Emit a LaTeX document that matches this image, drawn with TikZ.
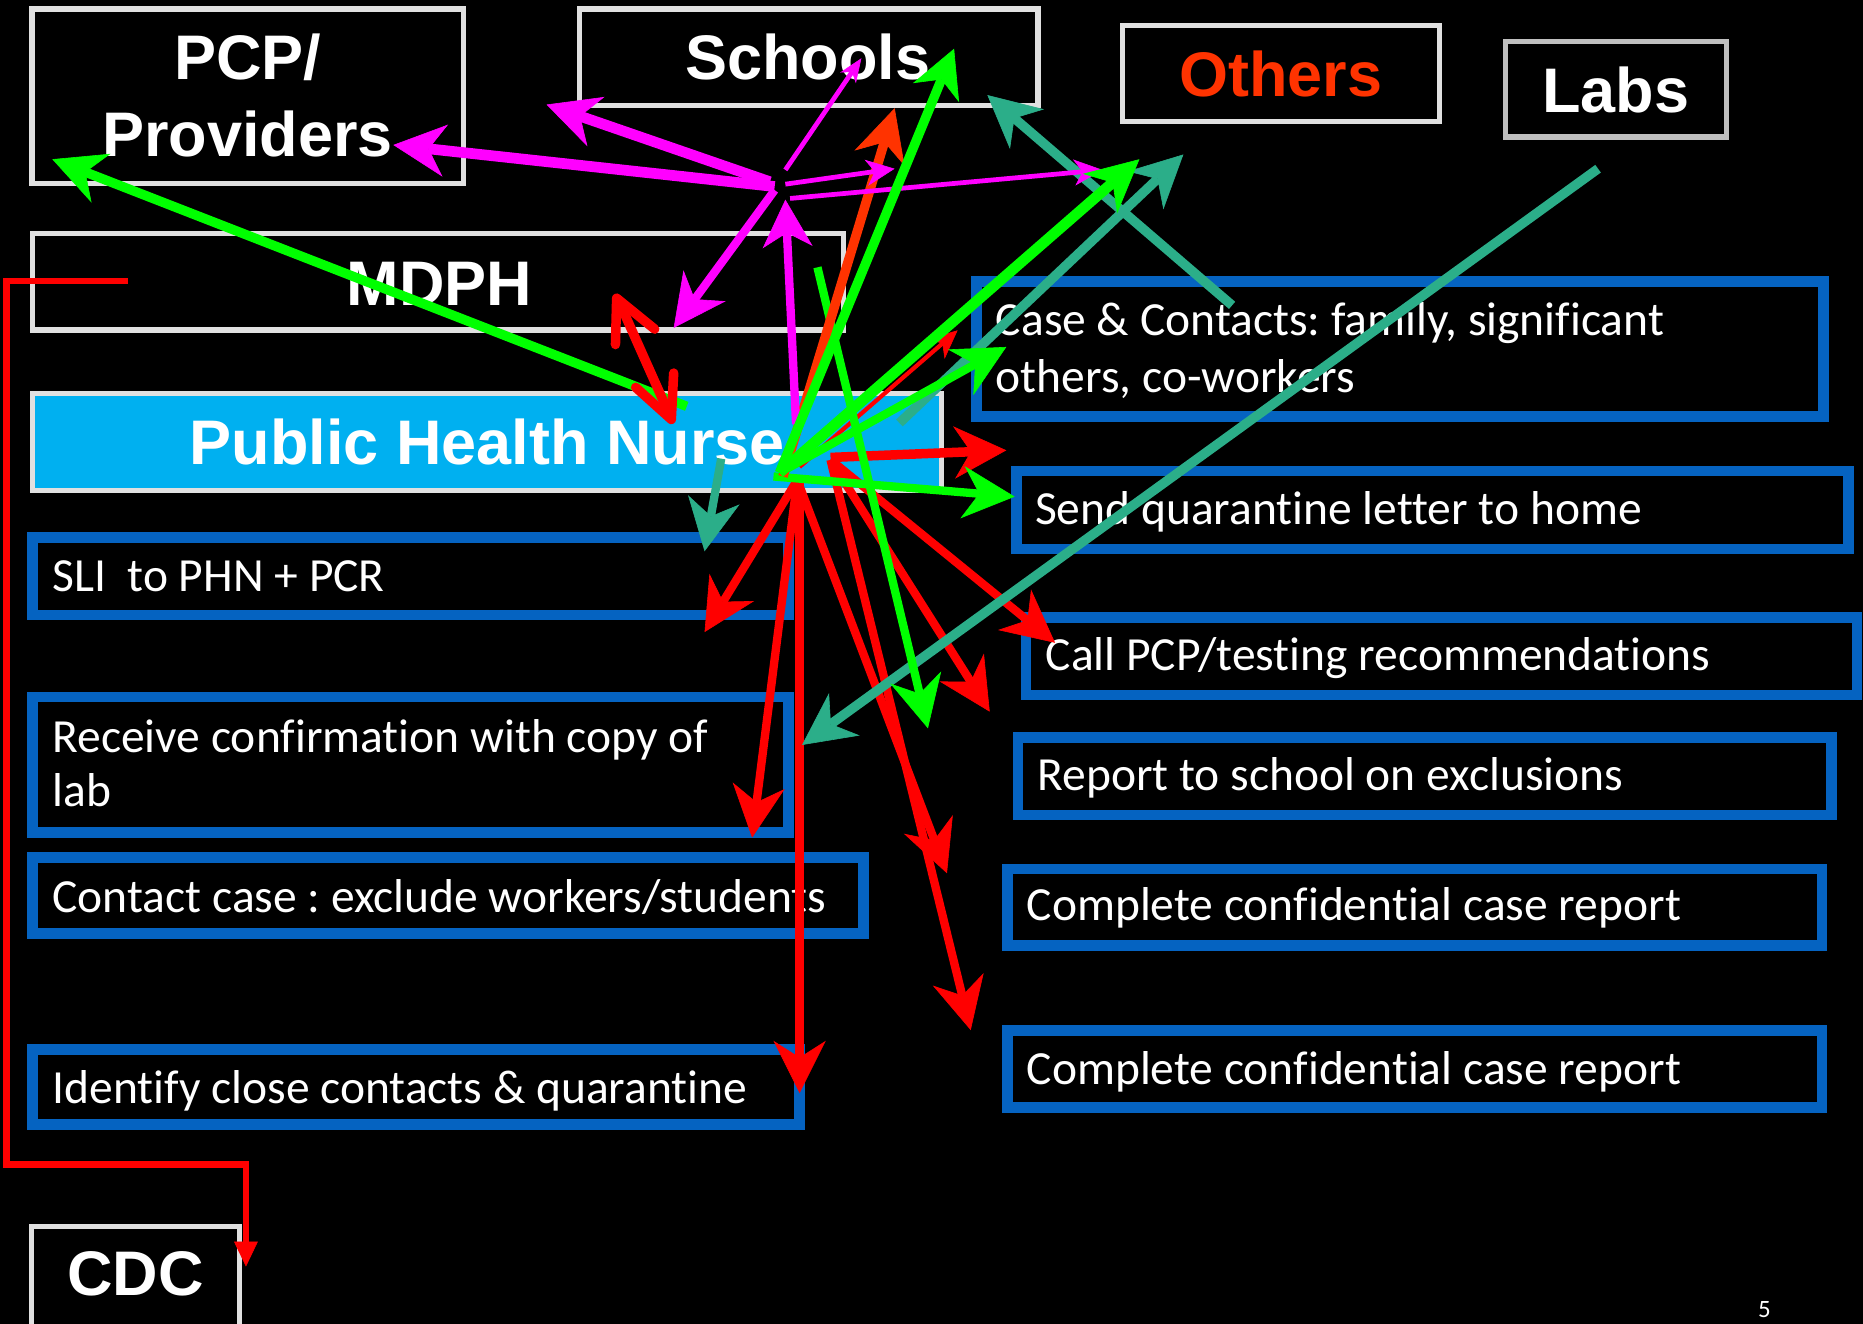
\documentclass[tikz,border=0pt]{standalone}
\usepackage{fontspec}
\setmainfont{Carlito}[Ligatures=NoCommon]
\newfontfamily\hdrfont{Liberation Sans}
\usetikzlibrary{arrows.meta}
\definecolor{wbord}{RGB}{224,224,224}
\definecolor{lbord}{RGB}{191,191,191}
\definecolor{bbord}{RGB}{5,99,193}
\definecolor{phncyan}{RGB}{0,176,240}
\definecolor{othred}{RGB}{255,51,0}
\definecolor{tealc}{RGB}{43,174,137}
\definecolor{magc}{RGB}{255,0,255}
\definecolor{grnc}{RGB}{0,255,0}
\definecolor{redc}{RGB}{255,0,0}
\frenchspacing
\tikzset{
  wbox/.style={draw=wbord,line width=4.5pt,fill=black,inner sep=0pt,outer sep=0pt},
  bbox/.style={draw=bbord,line width=9pt,fill=black,inner sep=0pt,outer sep=0pt},
  hdr/.style={text=white,font=\hdrfont\bfseries\fontsize{53}{60}\selectfont,anchor=base,inner sep=0pt},
  btxt/.style={text=white,font=\fontsize{40}{48}\selectfont,anchor=base west,inner sep=0pt},
  tipL/.style={-{Stealth[length=44pt,width=44pt,inset=14pt,line width=0.5pt]}},
  tipM/.style={-{Stealth[length=40pt,width=42pt,inset=12pt,line width=0.5pt]}},
  tipS/.style={-{Stealth[length=24pt,width=22pt,inset=7pt,line width=0.5pt]}},
  tipXS/.style={-{Stealth[length=20pt,width=16pt,inset=6pt,line width=0.5pt]}},
  barbv/.style={draw=redc,line width=8pt,line cap=round,line join=round},
  lnmag/.style={draw=magc},
  lngrn/.style={draw=grnc},
  lnred/.style={draw=redc},
  lnteal/.style={draw=tealc},
  lnorg/.style={draw=othred}
}
\begin{document}
\begin{tikzpicture}[x=1pt,y=-1pt]
\useasboundingbox (0,0) rectangle (1568,1114);
\clip (0,0) rectangle (1568,1114);
\fill[black] (0,0) rectangle (1568,1114);

% white boxes
\node[wbox, minimum width=363pt, minimum height=146.8pt] (pcp) at (208.5,81.1) {};
\node[wbox, minimum width=385.5pt, minimum height=81.3pt] (schools) at (680.75,48.35) {};
\node[wbox, minimum width=266.8pt, minimum height=80.3pt] (others) at (1077.9,61.85) {};
\node[wbox, draw=lbord, minimum width=186.3pt, minimum height=80.1pt] (labs) at (1360.15,75.25) {};
\node[wbox, minimum width=682.8pt, minimum height=81.1pt] (mdph) at (368.6,237.05) {};
\node[wbox, fill=phncyan, minimum width=765.3pt, minimum height=81.6pt] (phn) at (409.85,371.8) {};
\node[wbox, minimum width=175pt, minimum height=93pt] (cdc) at (114,1078.5) {};

% blue boxes
\node[bbox, minimum width=636pt, minimum height=65pt] (sli) at (345.5,485) {};
\node[bbox, minimum width=636pt, minimum height=114pt] (recv) at (345.5,643.5) {};
\node[bbox, minimum width=699pt, minimum height=64pt] (contact) at (377,753.5) {};
\node[bbox, minimum width=645.5pt, minimum height=63pt] (ident) at (350.25,915) {};
\node[bbox, minimum width=713pt, minimum height=113.4pt] (case) at (1178.5,293.7) {};
\node[bbox, minimum width=699.7pt, minimum height=65.5pt] (send) at (1205.65,429.25) {};
\node[bbox, minimum width=699.6pt, minimum height=65.5pt] (call) at (1213.2,552.25) {};
\node[bbox, minimum width=684.8pt, minimum height=65.3pt] (report) at (1199.1,653.35) {};
\node[bbox, minimum width=685.5pt, minimum height=64pt] (compa) at (1190.75,763.5) {};
\node[bbox, minimum width=685.5pt, minimum height=65.1pt] (compb) at (1190.75,899.75) {};

% header texts
\node[hdr] (pcpta) at (208.5,67) {PCP/};
\node[hdr] (pcptb) at (208.5,132) {Providers};
\node[hdr] (schoolst) at (680,67) {Schools};
\node[hdr, text=othred] (otherst) at (1078,81) {Others};
\node[hdr] (labst) at (1360,94.7) {Labs};
\node[hdr] (mdpht) at (370,256.7) {MDPH};
\node[hdr] (phnt) at (410,391) {Public Health Nurse};
\node[hdr] (cdct) at (114,1090) {CDC};

% box texts
\node[btxt] (slit) at (44,498) {SLI\ \ to PHN + PCR};
\node[btxt] (recvta) at (44,633) {Receive confirmation with copy of};
\node[btxt] (recvtb) at (44,679) {lab};
\node[btxt] (contactt) at (44,768) {Contact case : exclude workers/students};
\node[btxt] (identt) at (44,929) {Identify close contacts \& quarantine};
\node[btxt] (caseta) at (838,282) {Case \& Contacts: family, significant};
\node[btxt] (casetb) at (838,330.5) {others, co-workers};
\node[btxt] (sendt) at (871,441.7) {Send quarantine letter to home};
\node[btxt] (callt) at (880,564) {Call PCP/testing recommendations};
\node[btxt] (reportt) at (873,665) {Report to school on exclusions};
\node[btxt] (compat) at (864,774.7) {Complete confidential case report};
\node[btxt] (compbt) at (864,912.4) {Complete confidential case report};
\node[text=white, font=\fontsize{21}{24}\selectfont, anchor=base, inner sep=0pt] (pg) at (1485,1108.5) {5};

% connector end points
\coordinate (maa) at (652,157); \coordinate (mab) at (331,122);
\coordinate (mba) at (648,153); \coordinate (mbb) at (460,88);
\coordinate (mca) at (661,143); \coordinate (mcb) at (725,49);
\coordinate (mda) at (661,155); \coordinate (mdb) at (753,142);
\coordinate (mea) at (665,167); \coordinate (meb) at (928,143);
\coordinate (mfa) at (652,160); \coordinate (mfb) at (567,276);
\coordinate (mga) at (670,357); \coordinate (mgb) at (661,168);
\coordinate (oa) at (659,401); \coordinate (ob) at (753,91);
\coordinate (gaa) at (578,342); \coordinate (gab) at (44,134);
\coordinate (gc) at (656,398);
\coordinate (gbb) at (803,41);
\coordinate (gcb) at (959,134);
\coordinate (gdb) at (847,292);
\coordinate (gea) at (651,401); \coordinate (geb) at (854,418);
\coordinate (gfa) at (688,225); \coordinate (gfb) at (781,613);
\coordinate (taa) at (1037,257); \coordinate (tab) at (831,80);
\coordinate (tba) at (757,356); \coordinate (tbb) at (996,130);
\coordinate (tca) at (1345,142); \coordinate (tcb) at (675,627);
\coordinate (tda) at (607,386); \coordinate (tdb) at (593,464);
\coordinate (rp) at (671,404);
\coordinate (rq) at (699,387);
\coordinate (rab) at (593,532);
\coordinate (rbb) at (633,705);
\coordinate (rca) at (673,404); \coordinate (rcb) at (673,920);
\coordinate (rdb) at (797,735);
\coordinate (rea) at (699,385); \coordinate (reb) at (847,379);
\coordinate (rfb) at (888,541);
\coordinate (rgb) at (833,599);
\coordinate (rhb) at (817,867);
\coordinate (ria) at (673,393); \coordinate (rib) at (806,278);
\coordinate (rja) at (522,256); \coordinate (rjb) at (563,348);
\coordinate (rjta) at (519,251); \coordinate (rjtb) at (565,353);
\coordinate (rjaa) at (518,290); \coordinate (rjab) at (551,277);
\coordinate (rjba) at (535,326); \coordinate (rjbb) at (567,314);
\coordinate (ea) at (107.5,236.5); \coordinate (eb) at (5.5,236.5);
\coordinate (ec) at (5.5,980); \coordinate (ed) at (207,980);
\coordinate (ee) at (207,1066);

% red elbow to CDC
\draw[lnred, line width=5.5pt, line join=miter, -{Triangle[length=21pt,width=20pt,line width=0.5pt]}] (ea) -- (eb) -- (ec) -- (ed) -- (ee);

% red arrows
\draw[lnred, line width=7pt, tipL] (rp) -- (rab);
\draw[lnred, line width=7pt, tipL] (rp) -- (rbb);
\draw[lnred, line width=7pt, tipL] (rca) -- (rcb);
\draw[lnred, line width=7pt, tipL] (rp) -- (rdb);
\draw[lnred, line width=7pt, tipL] (rq) -- (rfb);
\draw[lnred, line width=7pt, tipL] (rq) -- (rgb);
\draw[lnred, line width=7pt, tipL] (rq) -- (rhb);
\draw[lnred, line width=8pt, tipL] (rea) -- (reb);
\draw[lnred, line width=3.5pt, tipS] (ria) -- (rib);

% teal arrows
\draw[lnteal, line width=8pt, tipL] (tca) -- (tcb);
\draw[lnteal, line width=8pt, tipL] (taa) -- (tab);
\draw[lnteal, line width=8pt, tipL] (tba) -- (tbb);
\draw[lnteal, line width=7pt, tipL] (tda) -- (tdb);

% green arrows
\draw[lngrn, line width=8pt, tipL] (gaa) -- (gab);
\draw[lngrn, line width=7pt, tipL] (gfa) -- (gfb);
\draw[lngrn, line width=7pt, tipL] (gea) -- (geb);
\draw[lngrn, line width=7pt, tipL] (gc) -- (gdb);

% orange arrow
\draw[lnorg, line width=8pt, tipL] (oa) -- (ob);

% magenta arrows
\draw[lnmag, line width=9pt, tipL] (maa) -- (mab);
\draw[lnmag, line width=9pt, tipL] (mba) -- (mbb);
\draw[lnmag, line width=4pt, tipXS] (mca) -- (mcb);
\draw[lnmag, line width=4pt, tipS] (mda) -- (mdb);
\draw[lnmag, line width=4pt, tipS] (mea) -- (meb);
\draw[lnmag, line width=7pt, tipL] (mfa) -- (mfb);
\draw[lnmag, line width=7pt, tipM] (mga) -- (mgb);

% green long arrows on top
\draw[lngrn, line width=8pt, tipM] (gc) -- (gbb);
\draw[lngrn, line width=9pt, tipL] (gc) -- (gcb);

% red double arrow MDPH <-> PHN (on top)
\draw[barbv] (rja) -- (rjb);
\draw[barbv] (rjaa) -- (rjta) -- (rjab);
\draw[barbv] (rjba) -- (rjtb) -- (rjbb);
\end{tikzpicture}
\end{document}
